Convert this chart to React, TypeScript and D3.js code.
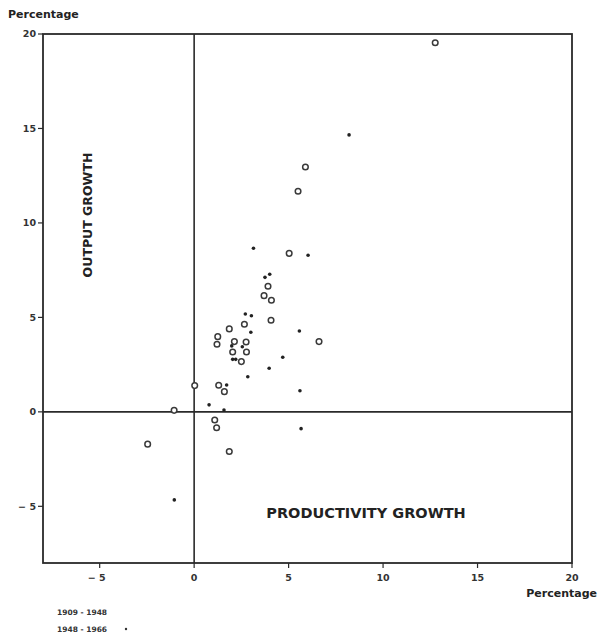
import React from 'react';
import * as d3 from 'd3';

// 1909-1948 (open circles): [productivity growth, output growth]
const series1909: [number, number][] = [
  [12.76, 19.54], [5.89, 12.96], [5.5, 11.68], [5.03, 8.39], [3.91, 6.65],
  [3.7, 6.15], [4.09, 5.91], [2.66, 4.64], [4.07, 4.85], [1.86, 4.39],
  [6.61, 3.72], [1.25, 3.98], [1.21, 3.58], [2.13, 3.72], [2.75, 3.7],
  [2.04, 3.17], [2.77, 3.17], [2.5, 2.66], [0.03, 1.39], [1.3, 1.41],
  [1.6, 1.07], [1.09, -0.43], [1.19, -0.84], [1.86, -2.1], [-1.06, 0.08],
  [-2.46, -1.71],
];

// 1948-1966 (small dots)
const series1948: [number, number][] = [
  [8.2, 14.66], [3.14, 8.66], [6.03, 8.29], [3.75, 7.12], [4.0, 7.28],
  [2.71, 5.18], [3.03, 5.09], [3.0, 4.21], [5.57, 4.28], [1.99, 3.49],
  [2.55, 3.45], [2.04, 2.78], [2.2, 2.78], [4.69, 2.89], [3.97, 2.31],
  [2.84, 1.86], [1.72, 1.42], [5.6, 1.12], [0.79, 0.37], [1.58, 0.1],
  [5.66, -0.89], [-1.05, -4.66],
];

const xTicks = [-5, 0, 5, 10, 15, 20];
const yTicks = [-5, 0, 5, 10, 15, 20];
const legendLabels = ['1909 - 1948', '1948 - 1966'];

const W = 599;
const H = 635;
const font = '"DejaVu Sans", sans-serif';
const ink = '#2a2a2a';

export default function App() {
  const x = d3.scaleLinear().domain([-8, 20]).range([43, 572]);
  const y = d3.scaleLinear().domain([-8, 20]).range([563, 34]);
  const [x0, x1] = x.range();
  const [y0, y1] = y.range();

  return (
    <svg width={W} height={H} style={{ position: 'absolute', left: 0, top: 0, background: '#fff' }}>
      {/* frame */}
      <rect x={x0} y={y1} width={x1 - x0} height={y0 - y1} fill="none" stroke={ink} strokeWidth={1.8} />

      {/* zero lines */}
      <line x1={x0} x2={x1} y1={y(0)} y2={y(0)} stroke={ink} strokeWidth={1.6} />
      <line x1={x(0)} x2={x(0)} y1={y1} y2={y0} stroke={ink} strokeWidth={1.6} />

      {/* y ticks */}
      {yTicks.map(t => (
        <g key={'y' + t}>
          <line x1={x0 - 5} x2={x0} y1={y(t)} y2={y(t)} stroke={ink} strokeWidth={1.2} />
          <text x={x0 - 7} y={y(t)} dy="0.35em" textAnchor="end" fontFamily={font}
            fontSize={9.5} fontWeight="bold" fill="#333">
            {t < 0 ? `\u2212 ${-t}` : t}
          </text>
        </g>
      ))}

      {/* x ticks */}
      {xTicks.map(t => (
        <g key={'x' + t}>
          <line x1={x(t)} x2={x(t)} y1={y0} y2={y0 + 5} stroke={ink} strokeWidth={1.2} />
          <text x={t < 0 ? x(t) - 3 : x(t)} y={y0 + 15} dy="0.35em" textAnchor="middle" fontFamily={font}
            fontSize={9.5} fontWeight="bold" fill="#333">
            {t < 0 ? `\u2212 ${-t}` : t}
          </text>
        </g>
      ))}

      {/* open circles */}
      {series1909.map((d, i) => (
        <circle key={'c' + i} cx={x(d[0])} cy={y(d[1])} r={2.8} fill="#fff" stroke="#3a3a3a" strokeWidth={1.5} />
      ))}

      {/* dots */}
      {series1948.map((d, i) => (
        <circle key={'d' + i} cx={x(d[0])} cy={y(d[1])} r={1.8} fill="#222" />
      ))}

      {/* axis titles */}
      <text x={8} y={14} dy="0.35em" fontFamily={font} fontSize={11} fontWeight="bold" fill="#222">Percentage</text>
      <text x={597} y={593} dy="0.35em" textAnchor="end" fontFamily={font} fontSize={11} fontWeight="bold" fill="#222">Percentage</text>

      <text transform={`translate(${88},${215}) rotate(-90)`} dy="0.35em" textAnchor="middle"
        fontFamily={font} fontSize={12.5} fontWeight="bold" fill="#222">OUTPUT GROWTH</text>
      <text x={366} y={513} dy="0.35em" textAnchor="middle"
        fontFamily={font} fontSize={14.5} fontWeight="bold" fill="#222">PRODUCTIVITY GROWTH</text>

      {/* legend */}
      {legendLabels.map((l, i) => (
        <text key={l} x={57} y={612 + i * 17} dy="0.35em" fontFamily={font} fontSize={7.5}
          fontWeight="bold" fill="#333">{l}</text>
      ))}
      <circle cx={126} cy={629} r={1.2} fill="#333" />
    </svg>
  );
}
